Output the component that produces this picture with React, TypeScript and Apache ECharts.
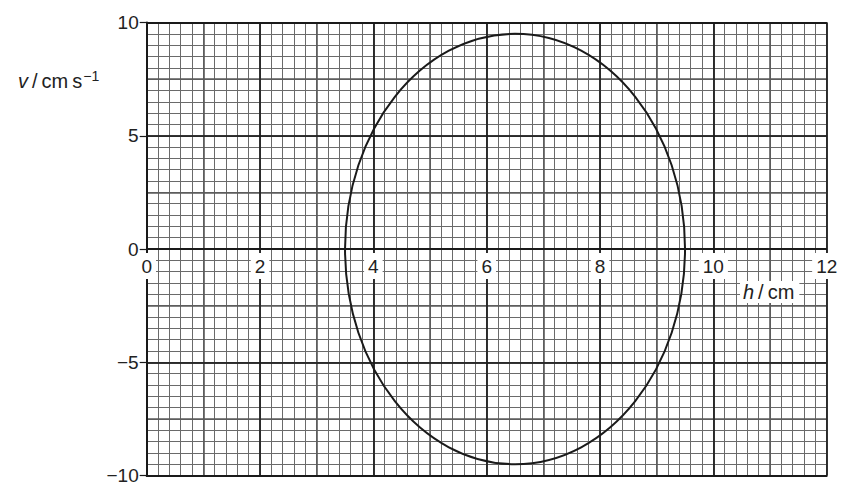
import React, { useEffect, useRef } from 'react'
import * as echarts from 'echarts'

// axis limits and labelled ticks
const xLimits = [0, 12]
const yLimits = [-10, 10]
const xTickValues = [0, 2, 4, 6, 8, 10, 12]
const yTickValues = [-10, -5, 0, 5, 10]
// graph paper: fine squares and the heavier 1 cm / 2.5 lines
const xFineStep = 0.2
const xMidStep = 1
const yFineStep = 0.5
const yMidStep = 2.5
// closed curve: centre h, centre v, half-width in h, half-height in v
const ellipseData = [[6.5, 0, 3, 9.5]]
const xAxisName = 'h'
const xAxisUnit = '\u2009/\u2009cm'
const yAxisName = 'v'
const yAxisUnit = '\u2009/\u2009cm\u2009s'
const yAxisPower = '\u22121'

const font = "'Liberation Sans', Arial, Helvetica, sans-serif"
const ink = '#1a1a1a'

const gridTop = 22.5
const gridBottom = 13.5
const chartHeight = 489

const minus = (v: number) => String(v).replace('-', '\u2212')

const paperAxis = (limits: number[], step: number, color: string, width: number, z: number) => ({
  type: 'value',
  min: limits[0],
  max: limits[1],
  interval: step,
  z,
  axisLine: { show: false, onZero: false },
  axisTick: { show: false },
  axisLabel: { show: false },
  splitLine: { show: true, lineStyle: { color, width } }
})

const App: React.FC = () => {
  const chartRef = useRef<HTMLDivElement>(null)

  useEffect(() => {
    if (!chartRef.current) return
    const chart = echarts.init(chartRef.current, undefined, { renderer: 'svg' })

    // onZero does not lift the labels here, so pull them up from the bottom edge to v = 0
    const plotHeight = chartHeight - gridTop - gridBottom
    const zeroLift = -plotHeight * (0 - yLimits[0]) / (yLimits[1] - yLimits[0])

    const option: any = {
      animation: false,
      grid: {
        left: 146.7,
        right: 31.3,
        top: gridTop,
        bottom: gridBottom,
        containLabel: false,
        outerBoundsMode: 'none'
      },
      xAxis: [
        {
          type: 'value',
          position: 'bottom',
          min: xLimits[0],
          max: xLimits[1],
          interval: xTickValues[1] - xTickValues[0],
          z: 6,
          axisLine: { show: true, onZero: false, lineStyle: { color: ink, width: 2 } },
          axisTick: { show: false },
          axisLabel: {
            margin: zeroLift + 4,
            color: '#222',
            fontSize: 19,
            fontFamily: font,
            backgroundColor: '#fff',
            padding: [4, 4, 3, 4],
            formatter: minus
          },
          splitLine: { show: true, lineStyle: { color: ink, width: 1.5 } }
        },
        paperAxis(xLimits, xFineStep, '#6a6a6a', 1, 0),
        paperAxis(xLimits, xMidStep, '#5a5a5a', 1.6, 2)
      ],
      yAxis: [
        {
          type: 'value',
          position: 'left',
          min: yLimits[0],
          max: yLimits[1],
          interval: yTickValues[1] - yTickValues[0],
          z: 4,
          axisLine: { show: true, onZero: false, lineStyle: { color: ink, width: 2 } },
          axisTick: { show: true, length: 7, lineStyle: { color: ink, width: 1.2 } },
          axisLabel: { margin: 8, color: '#222', fontSize: 19, fontFamily: font, formatter: minus },
          splitLine: { show: true, lineStyle: { color: ink, width: 1.5 } }
        },
        paperAxis(yLimits, yFineStep, '#6a6a6a', 1, 0),
        paperAxis(yLimits, yMidStep, '#5a5a5a', 1.6, 2),
        paperAxis(yLimits, yLimits[1], ink, 2.2, 5)
      ],
      series: [
        {
          type: 'custom',
          xAxisIndex: 0,
          yAxisIndex: 0,
          z: 8,
          silent: true,
          encode: { x: 0, y: 1 },
          data: ellipseData,
          renderItem: (_params: any, api: any) => {
            const c = api.coord([api.value(0), api.value(1)])
            const s = api.size([api.value(2), api.value(3)])
            return {
              type: 'ellipse',
              shape: { cx: c[0], cy: c[1], rx: s[0], ry: s[1] },
              style: { fill: 'none', stroke: ink, lineWidth: 2 }
            }
          }
        }
      ],
      graphic: [
        {
          type: 'text',
          left: 740,
          top: 281,
          z: 20,
          style: {
            text: `{i|${xAxisName}}${xAxisUnit}`,
            fontSize: 20,
            fontFamily: font,
            fill: '#222',
            backgroundColor: '#fff',
            padding: [1, 5, 1, 3],
            rich: { i: { fontStyle: 'italic', fontSize: 20, fontFamily: font, fill: '#222' } }
          }
        },
        {
          type: 'text',
          left: 18,
          top: 69,
          z: 20,
          style: {
            text: `{i|${yAxisName}}${yAxisUnit}{sup|${yAxisPower}}`,
            fontSize: 20,
            fontFamily: font,
            fill: '#222',
            rich: {
              i: { fontStyle: 'italic', fontSize: 20, fontFamily: font, fill: '#222' },
              sup: { fontSize: 14, fontFamily: font, fill: '#222', padding: [0, 0, 9, 1] }
            }
          }
        }
      ]
    }

    chart.setOption(option)
    return () => chart.dispose()
  }, [])

  return (
    <div
      ref={chartRef}
      style={{ position: 'absolute', left: 0, top: 0, width: 858, height: 489, background: '#fff' }}
    />
  )
}

export default App
